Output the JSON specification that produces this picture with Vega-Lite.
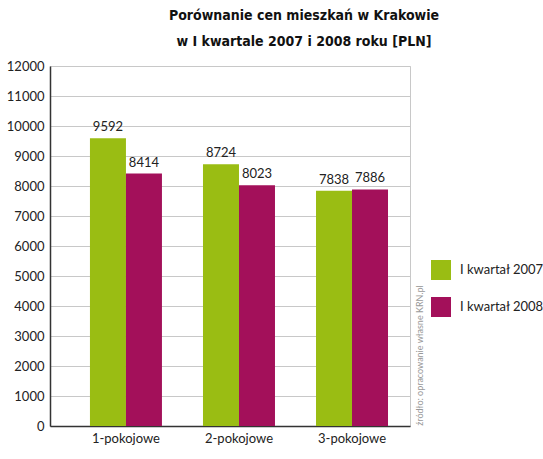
{
  "$schema": "https://vega.github.io/schema/vega-lite/v6.json",
  "autosize": "none",
  "padding": {"left": 50, "top": 66, "right": 133, "bottom": 33},
  "width": 360,
  "height": 360,
  "background": "white",
  "title": {
    "text": ["Porównanie cen mieszkań w Krakowie", "w I kwartale 2007 i 2008 roku [PLN]"],
    "font": "Liberation Sans Narrow, DejaVu Sans Condensed, sans-serif",
    "fontSize": 14,
    "fontWeight": "bold",
    "color": "#111111",
    "anchor": "middle",
    "frame": "group",
    "dx": 74,
    "lineHeight": 26,
    "offset": 11
  },
  "data": {
    "values": [
      {"typ": "1-pokojowe", "kwartal": "I kwartał 2007", "cena": 9592},
      {"typ": "1-pokojowe", "kwartal": "I kwartał 2008", "cena": 8414},
      {"typ": "2-pokojowe", "kwartal": "I kwartał 2007", "cena": 8724},
      {"typ": "2-pokojowe", "kwartal": "I kwartał 2008", "cena": 8023},
      {"typ": "3-pokojowe", "kwartal": "I kwartał 2007", "cena": 7838},
      {"typ": "3-pokojowe", "kwartal": "I kwartał 2008", "cena": 7886}
    ]
  },
  "encoding": {
    "x": {
      "field": "typ", "type": "nominal",
      "scale": {"paddingInner": 0.363, "paddingOuter": 0.274, "align": 0.645},
      "axis": {
        "title": null, "labelAngle": 0, "ticks": false,
        "domainColor": "#333333", "domainWidth": 1.5,
        "labelFont": "Lato, Open Sans, sans-serif", "labelFontSize": 13,
        "labelColor": "#222222", "labelPadding": 6
      }
    },
    "xOffset": {"field": "kwartal", "type": "nominal", "scale": {"paddingInner": 0, "paddingOuter": 0}}
  },
  "layer": [
    {
      "mark": {"type": "bar"},
      "encoding": {
        "y": {
          "field": "cena", "type": "quantitative",
          "scale": {"domain": [0, 12000]},
          "axis": {
            "title": null, "values": [0,1000,2000,3000,4000,5000,6000,7000,8000,9000,10000,11000,12000],
            "format": "d", "ticks": false, "domainColor": "#333333", "domainWidth": 1.5,
            "gridColor": "#c8c8c8", "gridWidth": 1,
            "labelFont": "Lato, Open Sans, sans-serif", "labelFontSize": 13,
            "labelColor": "#222222", "labelPadding": 6
          }
        },
        "color": {
          "field": "kwartal", "type": "nominal",
          "scale": {"domain": ["I kwartał 2007", "I kwartał 2008"], "range": ["#9abd13", "#a3105a"]},
          "legend": {
            "title": null, "orient": "none", "legendX": 381, "legendY": 194,
            "symbolType": "square", "symbolSize": 400, "symbolStrokeWidth": 0,
            "rowPadding": 17, "labelOffset": 9, "padding": 0,
            "labelFont": "Lato, Open Sans, sans-serif", "labelFontSize": 13, "labelColor": "#222222"
          }
        }
      }
    },
    {
      "mark": {"type": "text", "baseline": "bottom", "dy": -4, "font": "Lato, Open Sans, sans-serif", "fontSize": 13, "color": "#222222"},
      "encoding": {
        "y": {
          "field": "cena", "type": "quantitative",
          "scale": {"domain": [0, 12000]},
          "axis": {
            "orient": "right", "labels": false, "ticks": false, "domain": false, "grid": false,
            "title": "źródło: opracowanie własne KRN.pl",
            "titleAngle": 270, "titleAlign": "center", "titleBaseline": "middle",
            "titleX": 9, "titleY": 289,
            "titleFont": "Lato, Open Sans, sans-serif", "titleFontSize": 9, "titleFontWeight": "normal",
            "titleColor": "#999999"
          }
        },
        "text": {"field": "cena", "type": "quantitative", "format": "d"}
      }
    }
  ],
  "resolve": {"scale": {"y": "independent"}},
  "config": {
    "view": {"stroke": "#c8c8c8", "strokeWidth": 1}
  }
}
